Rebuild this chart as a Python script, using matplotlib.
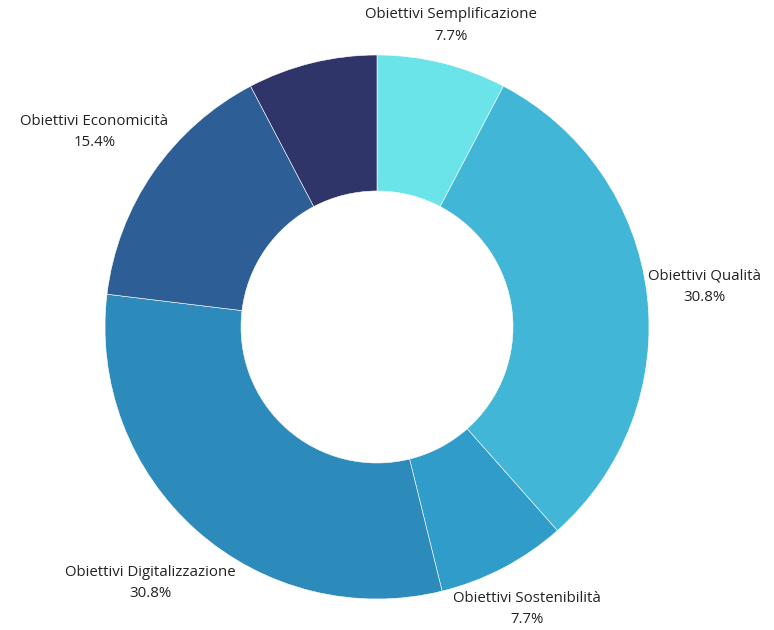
import numpy as np
import matplotlib.pyplot as plt

# categories and values (percent of total)
labels = ['Obiettivi Semplificazione', 'Obiettivi Qualità', 'Obiettivi Sostenibilità',
          'Obiettivi Digitalizzazione', 'Obiettivi Economicità', '']
values = [7.7, 30.8, 7.7, 30.8, 15.4, 7.7]
colors = ['#6AE4E9', '#41B6D6', '#309CC9', '#2D8BBB', '#2E5E96', '#2F3469']

plt.rcParams['font.family'] = ['Open Sans', 'DejaVu Sans']

fig = plt.figure(figsize=(7.74, 6.30), dpi=100)
ax = fig.add_axes([0, 0, 1, 1])

wedges, _ = ax.pie(values, colors=colors, startangle=90, counterclock=False,
                   radius=1.0, wedgeprops=dict(width=0.5, edgecolor='white', linewidth=0.4))

R = 272.0  # outer radius in pixels
cx, cy = 377.0, 327.0
ax.set_xlim(-cx / R, (774 - cx) / R)
ax.set_ylim(-(630 - cy) / R, cy / R)
ax.set_aspect('equal')
ax.axis('off')

fig.canvas.draw()
renderer = fig.canvas.get_renderer()
ymin, ymax = ax.get_ylim()
for w, lab, v in zip(wedges, labels, values):
    if not lab:
        continue
    ang = np.deg2rad((w.theta1 + w.theta2) / 2)
    t = ax.text(0, 0, f'{lab}\n{v:.1f}%', ha='center', va='center',
                fontsize=10.8, color='#222222', linespacing=1.6, multialignment='center')
    bb = t.get_window_extent(renderer)
    hw = bb.width / 2 / R
    hh = bb.height / 2 / R
    r = 1.0 + hw * abs(np.cos(ang)) + hh * abs(np.sin(ang))
    x, y = r * np.cos(ang), r * np.sin(ang)
    # keep labels inside the figure
    y = min(max(y, ymin + hh + 0.01), ymax - hh - 0.01)
    t.set_position((x, y))

fig.savefig('out.png', dpi=100)
